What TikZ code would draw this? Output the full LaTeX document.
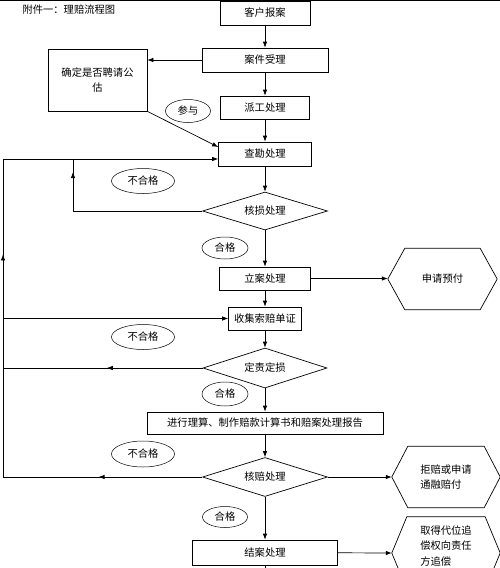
\documentclass[tikz,border=0pt]{standalone}
\usepackage{fontspec}
\setmainfont{Noto Sans CJK SC}
\usetikzlibrary{arrows.meta,positioning,calc,shapes.geometric,decorations.markings}

\begin{document}
\begin{tikzpicture}[
x=1pt,y=-1pt,
txt/.style={font=\fontsize{10.3}{15.5}\selectfont},
box/.style={draw,line width=0.7pt,inner sep=0pt,txt},
dia/.style={diamond,draw,line width=0.7pt,inner sep=0pt,aspect=3,txt},
hexbody/.style={inner sep=0pt,align=left,txt},
oval/.style={ellipse,draw,line width=0.5pt,inner sep=0pt,txt},
edge/.style={-{Latex[length=6pt,width=4.5pt]},line width=0.7pt},
line/.style={line width=0.7pt},
midtip/.style={postaction={decorate},decoration={markings,
  mark=at position #1 with {\arrow{Latex[length=6pt,width=4.5pt]}}}}
]
\useasboundingbox (0,0) rectangle (500,568);
\clip (0,0) rectangle (500,568);
\draw[line width=1.2pt] (0,0.6) -- (500,0.6);
\node[txt,anchor=west] (title) at (19,10) {附件一：理赔流程图};
% main column
\node[box,minimum width=90pt,minimum height=24pt] (bao) at (265,13) {客户报案};
\node[box,minimum width=126pt,minimum height=24pt] (shou) at (265,60) {案件受理};
\node[box,minimum width=89pt,minimum height=23pt] (pai) at (265,107.5) {派工处理};
\node[box,minimum width=93pt,minimum height=24pt] (kan) at (265,154) {查勘处理};
\node[dia,minimum width=125pt,minimum height=38pt] (sun) at (265,211) {核损处理};
\node[box,minimum width=91pt,minimum height=23pt] (li) at (265,278.5) {立案处理};
\node[box,minimum width=73pt,minimum height=23pt] (shouji) at (265,318.5) {收集索赔单证};
\node[dia,minimum width=124pt,minimum height=40pt] (ding) at (265,368) {定责定损};
\node[box,minimum width=236pt,minimum height=22pt] (suan) at (265,423) {进行理算、制作赔款计算书和赔案处理报告};
\node[dia,minimum width=125pt,minimum height=39pt] (pei) at (265,477) {核赔处理};
\node[box,minimum width=145pt,minimum height=25pt] (jie) at (265,552.5) {结案处理};
\coordinate (jieD) at (265,575);
% side boxes
\node[box,minimum width=99pt,minimum height=62pt,align=center] (gu) at (97.5,80) {确定是否聘请公\\估};
\node[hexbody,minimum width=75pt,minimum height=61pt] (yufu) at (442.5,279) {申请预付};
\node[hexbody,minimum width=76pt,minimum height=61pt] (jupei) at (446,477) {拒赔或申请\\通融赔付};
\node[hexbody,minimum width=78pt,minimum height=72pt] (zhui) at (446,553) {取得代位追\\偿权向责任\\方追偿\\~};
\coordinate (yufuW) at ([xshift=-17pt]yufu.west);
\coordinate (yufuE) at ([xshift=17pt]yufu.east);
\coordinate (jupeiW) at ([xshift=-16pt]jupei.west);
\coordinate (jupeiE) at ([xshift=16pt]jupei.east);
\coordinate (zhuiW) at ([xshift=-15pt]zhui.west);
\coordinate (zhuiE) at ([xshift=15pt]zhui.east);
\draw[line] (yufuW) -- (yufu.north west) -- (yufu.north east) -- (yufuE) -- (yufu.south east) -- (yufu.south west) -- cycle;
\draw[line] (jupeiW) -- (jupei.north west) -- (jupei.north east) -- (jupeiE) -- (jupei.south east) -- (jupei.south west) -- cycle;
\draw[line] (zhuiW) -- (zhui.north west) -- (zhui.north east) -- (zhuiE) -- (zhui.south east) -- (zhui.south west) -- cycle;
% ovals
\node[oval,minimum width=45pt,minimum height=23pt] (canyu) at (188,111) {参与};
\node[oval,minimum width=63pt,minimum height=25pt] (no1) at (143,181) {不合格};
\node[oval,minimum width=46pt,minimum height=22pt] (ok1) at (225,248) {合格};
\node[oval,minimum width=63pt,minimum height=25pt] (no2) at (143,337) {不合格};
\node[oval,minimum width=46pt,minimum height=24pt] (ok2) at (225,394) {合格};
\node[oval,minimum width=63pt,minimum height=26pt] (no3) at (143,454) {不合格};
\node[oval,minimum width=45pt,minimum height=21pt] (ok3) at (225,517) {合格};
% loop corners
\coordinate (outL) at (3,159);
\coordinate (outB) at (3,477);
\coordinate (inL) at (73,211);
% connectors
\draw[edge] (bao) -- (shou);
\draw[edge] (shou) -- (pai);
\draw[edge] (pai) -- (kan);
\draw[edge] (kan) -- (sun);
\draw[edge] (sun) -- (li);
\draw[edge] (li) -- (shouji);
\draw[edge] (shouji) -- (ding);
\draw[edge] (ding) -- (suan);
\draw[edge] (suan) -- (pei);
\draw[edge] (pei) -- (jie);
\draw[line] (jie) -- (jieD);
\draw[edge] (shou.west) -- (shou.west -| gu.east);
\draw[edge] (gu.south east) -- ([yshift=7pt]kan.west);
\draw[edge] (li) -- (li -| yufuW);
\draw[edge] (pei) -- (jupeiW);
\draw[edge] (jie) -- (zhuiW);
\draw[line] (sun.west) -- (inL);
\draw[line,midtip=0.75] (inL) -- (inL |- outL);
\draw[line,midtip=0.52] (pei.west) -- (outB);
\draw[line,midtip=0.7] (outB) -- (outL);
\draw[edge] (outL) -- (outL -| kan.west);
\draw[edge] (outL |- shouji.west) -- (shouji.west);
\draw[line,midtip=0.48] (ding.west) -- (ding.west -| outL);
\end{tikzpicture}
\end{document}
